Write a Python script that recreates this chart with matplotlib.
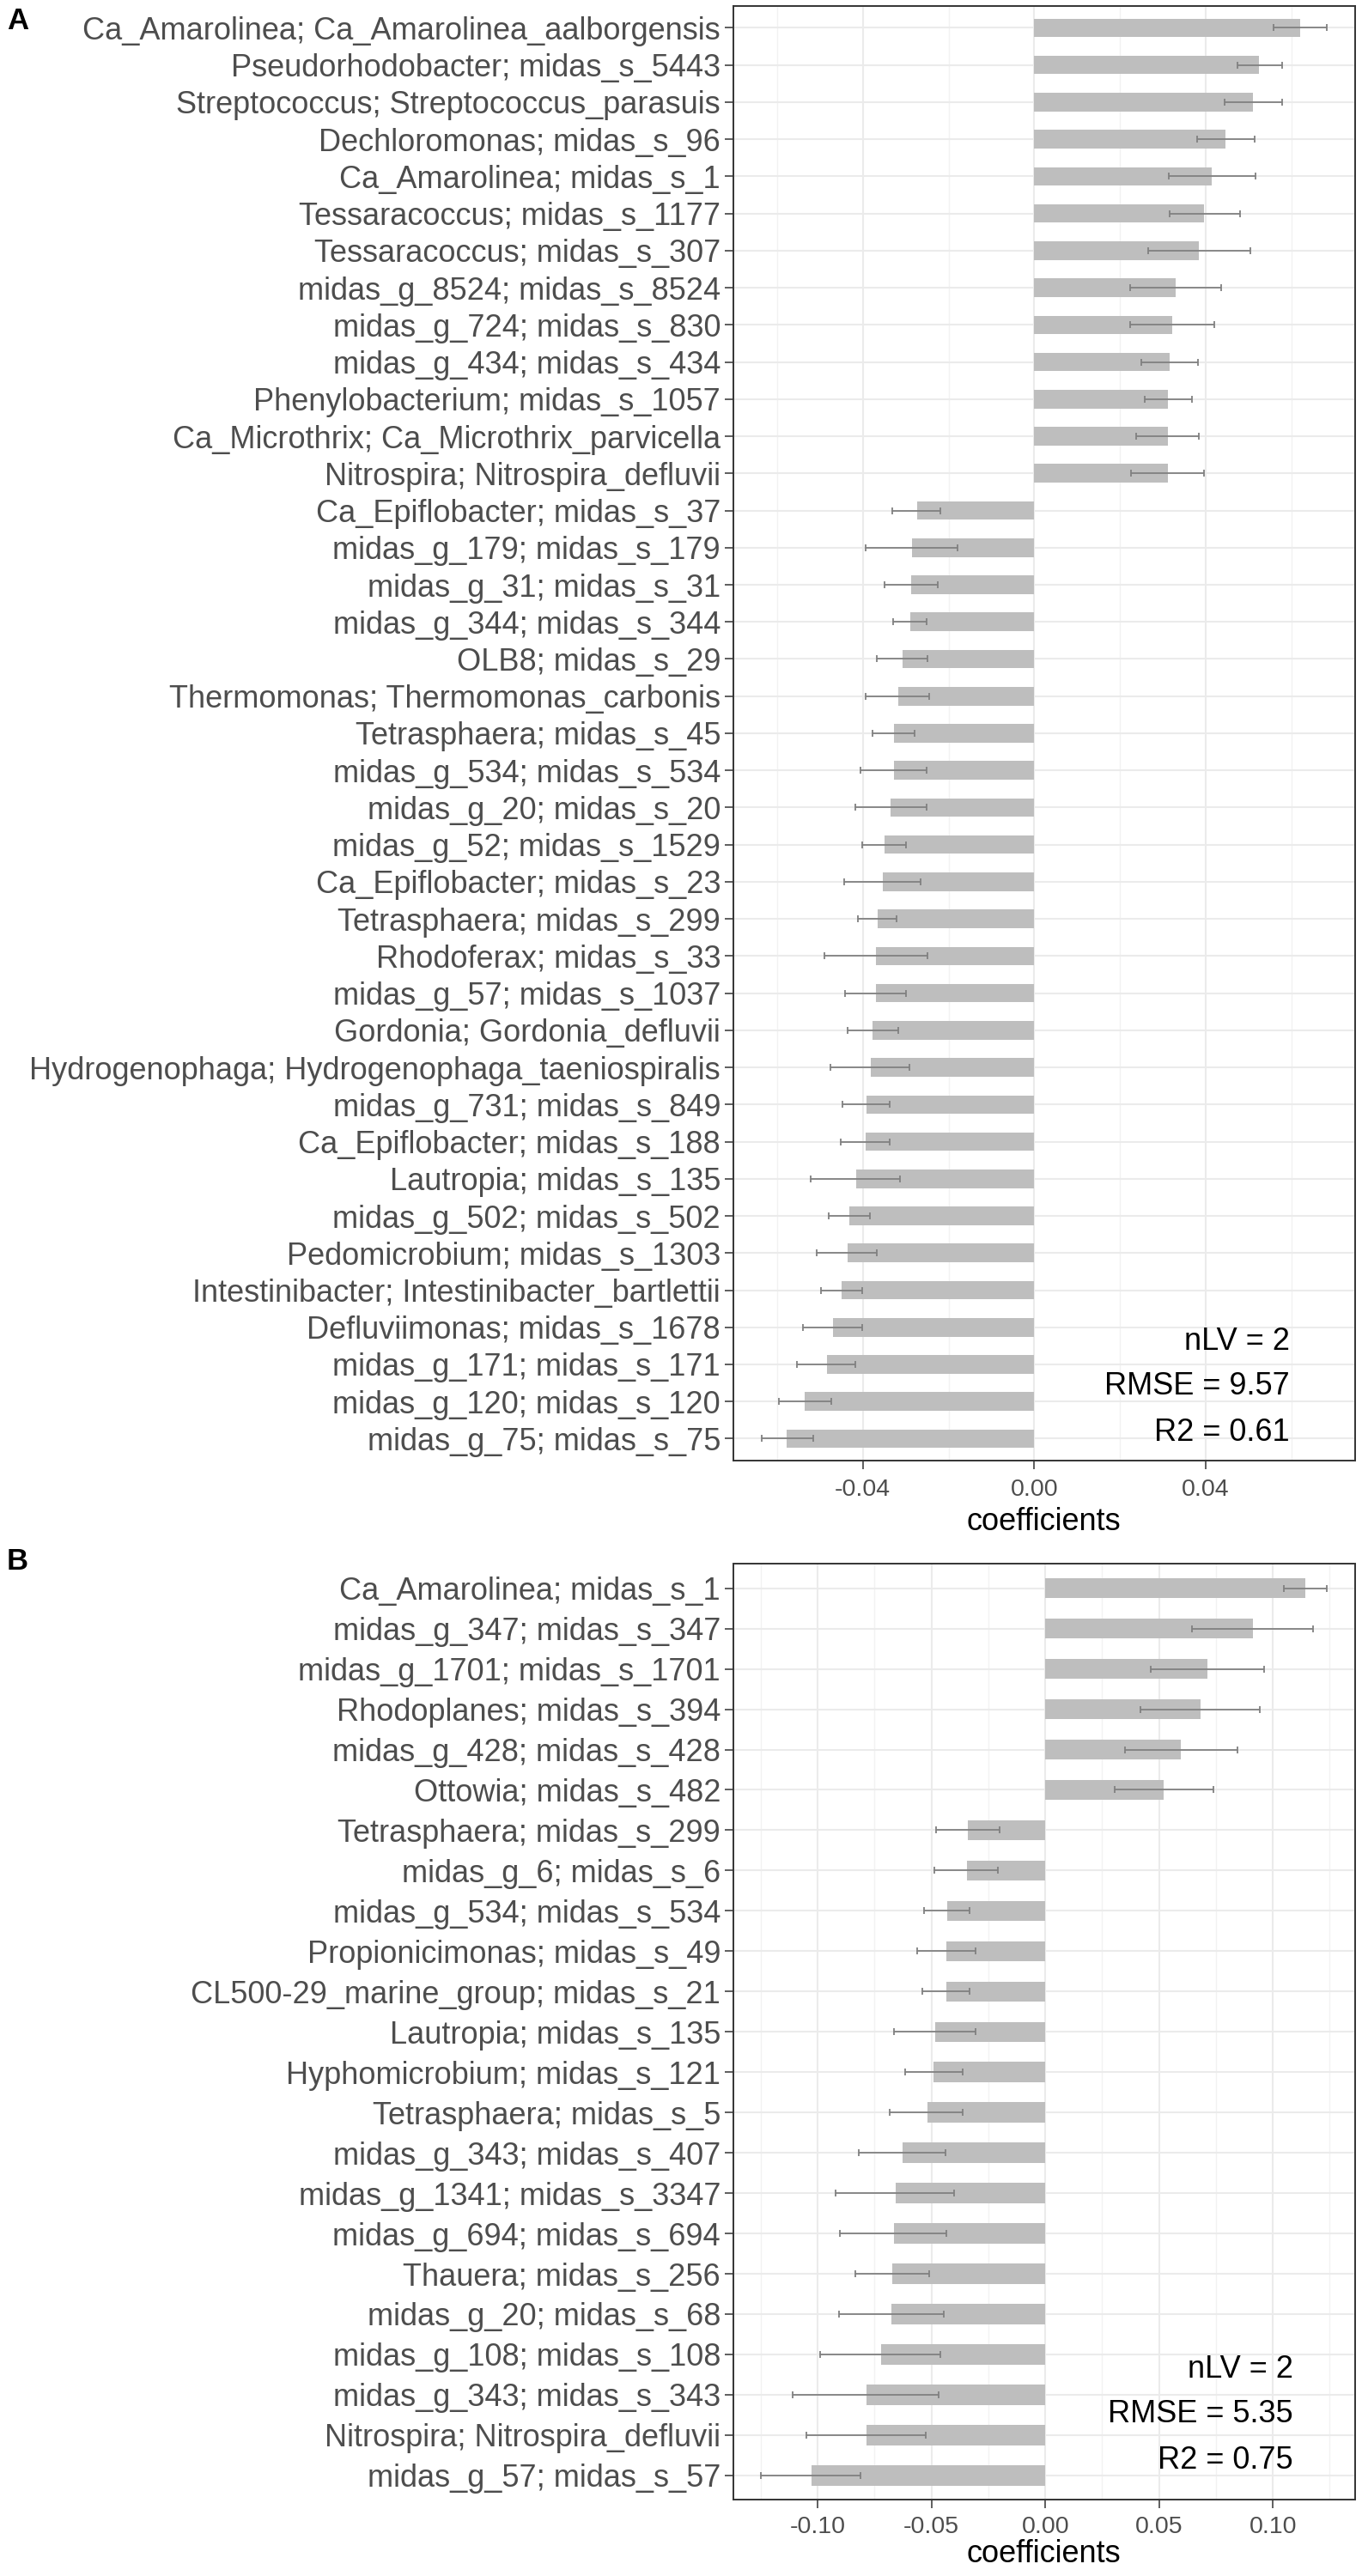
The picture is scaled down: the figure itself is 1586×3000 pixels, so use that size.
import numpy as np
import matplotlib
matplotlib.use("Agg")
import matplotlib.pyplot as plt

plt.rcParams['font.family'] = ['Liberation Sans', 'DejaVu Sans']
plt.rcParams['axes.unicode_minus'] = False

# ---- panel A data (top to bottom) ----
taxa_a = [
    "Ca_Amarolinea; Ca_Amarolinea_aalborgensis",
    "Pseudorhodobacter; midas_s_5443",
    "Streptococcus; Streptococcus_parasuis",
    "Dechloromonas; midas_s_96",
    "Ca_Amarolinea; midas_s_1",
    "Tessaracoccus; midas_s_1177",
    "Tessaracoccus; midas_s_307",
    "midas_g_8524; midas_s_8524",
    "midas_g_724; midas_s_830",
    "midas_g_434; midas_s_434",
    "Phenylobacterium; midas_s_1057",
    "Ca_Microthrix; Ca_Microthrix_parvicella",
    "Nitrospira; Nitrospira_defluvii",
    "Ca_Epiflobacter; midas_s_37",
    "midas_g_179; midas_s_179",
    "midas_g_31; midas_s_31",
    "midas_g_344; midas_s_344",
    "OLB8; midas_s_29",
    "Thermomonas; Thermomonas_carbonis",
    "Tetrasphaera; midas_s_45",
    "midas_g_534; midas_s_534",
    "midas_g_20; midas_s_20",
    "midas_g_52; midas_s_1529",
    "Ca_Epiflobacter; midas_s_23",
    "Tetrasphaera; midas_s_299",
    "Rhodoferax; midas_s_33",
    "midas_g_57; midas_s_1037",
    "Gordonia; Gordonia_defluvii",
    "Hydrogenophaga; Hydrogenophaga_taeniospiralis",
    "midas_g_731; midas_s_849",
    "Ca_Epiflobacter; midas_s_188",
    "Lautropia; midas_s_135",
    "midas_g_502; midas_s_502",
    "Pedomicrobium; midas_s_1303",
    "Intestinibacter; Intestinibacter_bartlettii",
    "Defluviimonas; midas_s_1678",
    "midas_g_171; midas_s_171",
    "midas_g_120; midas_s_120",
    "midas_g_75; midas_s_75",
]
coef_a = [0.0621, 0.0525, 0.0511, 0.0447, 0.0415, 0.0397, 0.0385, 0.0330,
          0.0322, 0.0316, 0.0312, 0.0311, 0.0311,
          -0.0274, -0.0285, -0.0288, -0.0289, -0.0308, -0.0318, -0.0327,
          -0.0328, -0.0335, -0.0350, -0.0354, -0.0365, -0.0369, -0.0370,
          -0.0377, -0.0382, -0.0392, -0.0394, -0.0415, -0.0431, -0.0436,
          -0.0449, -0.0470, -0.0484, -0.0535, -0.0577]
lo_a = [0.0559, 0.0474, 0.0445, 0.0380, 0.0313, 0.0316, 0.0266, 0.0224,
        0.0224, 0.0250, 0.0258, 0.0238, 0.0226,
        -0.0331, -0.0394, -0.0350, -0.0329, -0.0368, -0.0393, -0.0377,
        -0.0406, -0.0417, -0.0402, -0.0443, -0.0411, -0.0490, -0.0442,
        -0.0436, -0.0475, -0.0447, -0.0452, -0.0521, -0.0480, -0.0508,
        -0.0498, -0.0540, -0.0554, -0.0596, -0.0637]
hi_a = [0.0682, 0.0578, 0.0578, 0.0515, 0.0517, 0.0481, 0.0504, 0.0437,
        0.0420, 0.0383, 0.0368, 0.0385, 0.0397,
        -0.0219, -0.0179, -0.0226, -0.0252, -0.0250, -0.0245, -0.0279,
        -0.0252, -0.0252, -0.0299, -0.0266, -0.0321, -0.0249, -0.0299,
        -0.0318, -0.0291, -0.0338, -0.0338, -0.0313, -0.0384, -0.0368,
        -0.0401, -0.0401, -0.0417, -0.0474, -0.0515]
stats_a = ["nLV = 2", "RMSE = 9.57", "R2 = 0.61"]
ticks_a = [-0.04, 0.00, 0.04]
tick_labels_a = ["-0.04", "0.00", "0.04"]
minor_a = [-0.06, -0.02, 0.02, 0.06]

# ---- panel B data (top to bottom) ----
taxa_b = [
    "Ca_Amarolinea; midas_s_1",
    "midas_g_347; midas_s_347",
    "midas_g_1701; midas_s_1701",
    "Rhodoplanes; midas_s_394",
    "midas_g_428; midas_s_428",
    "Ottowia; midas_s_482",
    "Tetrasphaera; midas_s_299",
    "midas_g_6; midas_s_6",
    "midas_g_534; midas_s_534",
    "Propionicimonas; midas_s_49",
    "CL500-29_marine_group; midas_s_21",
    "Lautropia; midas_s_135",
    "Hyphomicrobium; midas_s_121",
    "Tetrasphaera; midas_s_5",
    "midas_g_343; midas_s_407",
    "midas_g_1341; midas_s_3347",
    "midas_g_694; midas_s_694",
    "Thauera; midas_s_256",
    "midas_g_20; midas_s_68",
    "midas_g_108; midas_s_108",
    "midas_g_343; midas_s_343",
    "Nitrospira; Nitrospira_defluvii",
    "midas_g_57; midas_s_57",
]
coef_b = [0.1142, 0.0912, 0.0712, 0.0681, 0.0597, 0.0521,
          -0.0341, -0.0345, -0.0430, -0.0433, -0.0436, -0.0484, -0.0491,
          -0.0519, -0.0627, -0.0657, -0.0665, -0.0672, -0.0678, -0.0723,
          -0.0786, -0.0786, -0.1028]
lo_b = [0.1049, 0.0646, 0.0463, 0.0419, 0.0351, 0.0304,
        -0.0481, -0.0487, -0.0531, -0.0562, -0.0541, -0.0664, -0.0617,
        -0.0682, -0.0820, -0.0920, -0.0902, -0.0835, -0.0907, -0.0991,
        -0.1110, -0.1051, -0.1248]
hi_b = [0.1236, 0.1176, 0.0960, 0.0944, 0.0845, 0.0740,
        -0.0200, -0.0210, -0.0331, -0.0307, -0.0334, -0.0306, -0.0364,
        -0.0362, -0.0438, -0.0400, -0.0434, -0.0509, -0.0447, -0.0460,
        -0.0468, -0.0525, -0.0811]
stats_b = ["nLV = 2", "RMSE = 5.35", "R2 = 0.75"]
ticks_b = [-0.10, -0.05, 0.00, 0.05, 0.10]
tick_labels_b = ["-0.10", "-0.05", "0.00", "0.05", "0.10"]
minor_b = [-0.125, -0.075, -0.025, 0.025, 0.075, 0.125]

W, H = 1586, 3000
fig = plt.figure(figsize=(W / 100, H / 100), dpi=100)


def px_axes(left, top, right, bottom):
    return fig.add_axes([left / W, 1 - bottom / H, (right - left) / W, (bottom - top) / H])


def panel(ax, taxa, coef, lo, hi, xlim, ticks, tlabels, minor, stats, stat_x, stat_y,
          cap, tick_off, label_off):
    n = len(taxa)
    y = np.arange(n)
    coef = np.array(coef)
    err = [coef - np.array(lo), np.array(hi) - coef]
    ax.set_axisbelow(True)
    ax.barh(y, coef, height=0.5, color="#BEBEBE", zorder=2)
    ax.errorbar(coef, y, xerr=err, fmt="none", ecolor="#808080", elinewidth=1.3,
                capsize=cap, capthick=1.3, zorder=3)
    ax.set_xlim(*xlim)
    ax.set_ylim(n - 1 + 0.6, -0.6)
    ax.set_yticks(y)
    ax.set_yticklabels(taxa, fontsize=26, color="#4D4D4D")
    ax.set_xticks(ticks)
    ax.set_xticklabels(tlabels, fontsize=20.5, color="#4D4D4D")
    ax.set_xticks(minor, minor=True)
    ax.grid(which="major", color="#EBEBEB", lw=1.5)
    ax.grid(which="minor", axis="x", color="#F2F2F2", lw=1.0)
    ax.tick_params(which="major", length=7, width=1.1, color="#333333")
    ax.tick_params(axis="y", pad=3.5)
    ax.tick_params(axis="x", pad=tick_off)
    ax.tick_params(which="minor", length=0)
    for s in ax.spines.values():
        s.set_color("#333333")
        s.set_linewidth(1.4)
    ax.set_xlabel("coefficients", fontsize=26, color="black")
    ax.xaxis.label.set_va("center")
    ax.xaxis.set_label_coords(0.5, label_off)
    for txt, yy in zip(stats, stat_y):
        ax.text(stat_x, yy, txt, fontsize=26, ha="right", va="center", color="black")


axA = px_axes(853.6, 6.5, 1577.6, 1701.4)
panel(axA, taxa_a, coef_a, lo_a, hi_a, (-0.0703, 0.0748), ticks_a, tick_labels_a,
      minor_a, stats_a, 0.0596, [35.39, 36.59, 37.83], 2.8, 7.5,
      -70.6 / (1701.4 - 6.5))

axB = px_axes(853.6, 1821.5, 1577.6, 2911)
panel(axB, taxa_b, coef_b, lo_b, hi_b, (-0.1372, 0.1360), ticks_b, tick_labels_b,
      minor_b, stats_b, 0.109, [19.37, 20.48, 21.64], 3.2, 6.5,
      -64 / (2911 - 1821.5))

fig.text(8 / W, 1 - 25 / H, "A", fontsize=25, fontweight="bold", ha="left", va="center")
fig.text(8 / W, 1 - 1818 / H, "B", fontsize=25, fontweight="bold", ha="left", va="center")

fig.savefig("out.png", dpi=100)
